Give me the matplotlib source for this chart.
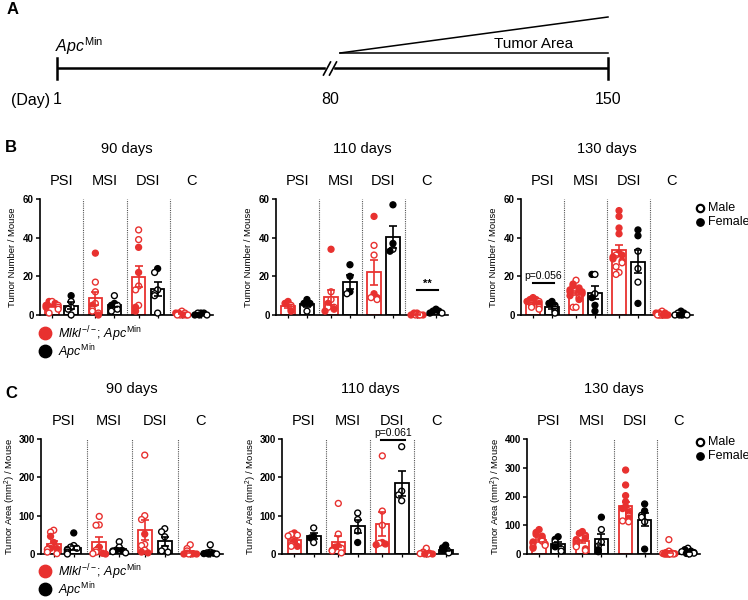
import numpy as np
import matplotlib
matplotlib.use('Agg')
import matplotlib.pyplot as plt

plt.rcParams['font.family'] = ['Liberation Sans', 'DejaVu Sans']
plt.rcParams['mathtext.fontset'] = 'custom'
plt.rcParams['mathtext.rm'] = 'Liberation Sans'
plt.rcParams['mathtext.it'] = 'Liberation Sans:italic'

RED = '#e8312f'
BLACK = '#000000'

groups = ['PSI', 'MSI', 'DSI', 'C']
timeline_days = [1, 80, 150]

# sex codes: 'f' = female (filled), 'm' = male (open); order PSI, MSI, DSI, C
# --- B: tumor number ---
num90_mlkl = [[7, 7, 6, 5, 5, 4, 4, 3, 1], [32, 17, 12, 6, 5, 3, 2, 1, 0],
              [44, 39, 35, 22, 15, 13, 5, 4, 2], [2, 1, 1, 1, 0, 0, 0, 0, 0]]
num90_mlkl_sex = ['fmffmfmmm', 'fmmmfmmmf', 'mmffmmmff', 'mmffmfmfm']
num90_apc = [[10, 7, 4, 3, 0], [10, 6, 5, 5, 3, 2],
             [24, 22, 13, 11, 10, 1], [1, 1, 1, 0, 0, 0]]
num90_apc_sex = ['fmmmm', 'mffmmm', 'fmmmmm', 'ffmfmf']

num110_mlkl = [[7, 6, 5, 4, 3, 2], [34, 12, 8, 6, 4, 4, 3, 2],
               [51, 36, 31, 11, 9, 9, 8], [1, 1, 0, 0, 0, 0, 0]]
num110_mlkl_sex = ['ffmmmf', 'fmmfmmff', 'fmmffmm', 'ffmmffm']
num110_apc = [[8, 6, 6, 2], [26, 20, 12, 11], [57, 37, 34, 33], [3, 2, 2, 1, 1]]
num110_apc_sex = ['fffm', 'fffm', 'ffmf', 'fffmf']

num130_mlkl = [[9, 8, 8, 7, 7, 6, 6, 5, 5, 4, 4, 3],
               [18, 16, 15, 14, 13, 13, 12, 12, 11, 10, 9, 8, 4, 4],
               [54, 51, 45, 42, 32, 31, 31, 30, 29, 28, 27, 25, 22, 21],
               [2, 1, 1, 1, 0, 0, 0, 0, 0, 0, 0, 0]]
num130_mlkl_sex = ['fffmfmfmfmmm', 'mfffffffffmfmm', 'ffffffmfffmmmm', 'mffffmmffmfm']
num130_apc = [[7, 6, 5, 4, 3, 2, 1], [21, 21, 11, 9, 5, 2],
              [44, 41, 33, 24, 17, 6], [2, 1, 1, 0, 0, 0, 0]]
num130_apc_sex = ['fffmmmm', 'fmmfff', 'ffmmmf', 'ffmfmmf']

# --- C: tumor area (mm2) ---
area90_mlkl = [[62, 57, 46, 30, 20, 15, 14, 12, 5, 1], [98, 76, 75, 18, 10, 5, 2, 1, 0],
               [258, 100, 90, 52, 25, 22, 10, 5, 3], [24, 14, 8, 2, 1, 0, 0, 0, 0]]
area90_mlkl_sex = ['mmffmffmmm', 'mmmfmmfmf', 'mmmfmmmff', 'mmmfmffmf']
area90_apc = [[55, 22, 18, 15, 12, 10, 5, 3, 0], [32, 18, 10, 9, 8, 6, 3],
              [66, 58, 45, 15, 8, 5], [24, 5, 3, 2, 1, 0, 0]]
area90_apc_sex = ['fmmmmmmmm', 'mmfffmm', 'mmmmmm', 'mmmffmf']

area110_mlkl = [[55, 51, 49, 47, 32, 25, 20, 20], [132, 52, 20, 18, 15, 10, 8, 3],
                [256, 112, 75, 30, 28, 26, 24], [15, 5, 3, 2, 1, 0, 0, 0]]
area110_mlkl_sex = ['fmmmfmfm', 'mmffmfmm', 'mmmfmff', 'mfmfmfmf']
area110_apc = [[68, 46, 42, 30], [107, 90, 60, 30], [280, 164, 154, 139], [23, 16, 10, 6, 3]]
area110_apc_sex = ['mffm', 'mmmf', 'mmmm', 'fffmm']

area130_mlkl = [[85, 75, 68, 62, 55, 50, 45, 42, 38, 35, 30, 25, 20],
                [78, 72, 65, 60, 55, 50, 46, 42, 38, 34, 30, 25, 18, 12],
                [292, 240, 203, 182, 165, 158, 150, 145, 140, 132, 125, 115, 112],
                [50, 10, 5, 3, 2, 1, 0, 0, 0, 0, 0, 0]]
area130_mlkl_sex = ['ffffffmffmmmf', 'fffmfffmfmfmfm', 'ffffffmffmfmm', 'mmffmffmfmfm']
area130_apc = [[60, 51, 43, 30, 25, 18, 10], [128, 85, 42, 28, 15, 8],
               [174, 150, 135, 128, 112, 17], [20, 15, 10, 8, 5, 3, 2, 0]]
area130_apc_sex = ['ffmmfmm', 'fmmmff', 'ffmmmf', 'mffmfmfm']

W, H = 748, 600
fig = plt.figure(figsize=(W / 100, H / 100), dpi=100)

# overlay in pixel coords for panel A and figure-level text
ov = fig.add_axes([0, 0, 1, 1])
ov.set_xlim(0, W)
ov.set_ylim(H, 0)
ov.axis('off')


def px_rect(l, t, w, h):
    return [l / W, 1 - (t + h) / H, w / W, h / H]


# ---- panel A: timeline ----
day_x = [57, 330, 608]
ov.text(7, 10, 'A', fontsize=12, fontweight='bold', va='center', ha='left')
ov.plot([day_x[0], day_x[2]], [68, 68], color='black', lw=1.8, solid_capstyle='butt')
for x in (day_x[0], day_x[2]):
    ov.plot([x, x], [58, 79], color='black', lw=1.8)
ov.add_patch(plt.Rectangle((326, 64), 7, 8, color='white', zorder=3))
for dx in (-3, 3):
    ov.plot([day_x[1] + dx - 3.5, day_x[1] + dx + 3.5], [75, 62], color='black', lw=1.2, zorder=4)
ov.plot([340, 608], [53, 17], color='black', lw=1.1)
ov.plot([340, 608], [53, 53], color='black', lw=1.1)
ov.text(534, 44, 'Tumor Area', fontsize=11, ha='center', va='center')
ov.text(55, 46, r'$\it{Apc}^{\rm Min}$', fontsize=11.5, ha='left', va='center')
ov.text(50, 100, '(Day)', fontsize=11.5, ha='right', va='center')
for d, x in zip(timeline_days, day_x):
    ov.text(x, 100, str(d), fontsize=11.5, ha='center', va='center')

ov.text(5, 148, 'B', fontsize=12, fontweight='bold', va='center', ha='left')
ov.text(5, 393, 'C', fontsize=12, fontweight='bold', va='center', ha='left')


def swarm(vals, px_per_unit, step=0.07, close=4.5):
    pattern = [0, -1, 1, -2, 2, -0.5, 0.5, -1.5, 1.5]
    offs = np.zeros(len(vals))
    placed = []
    for i in np.argsort(vals)[::-1]:
        y = vals[i] * px_per_unit
        k = sum(1 for yy in placed if abs(yy - y) < close)
        offs[i] = pattern[k % len(pattern)] * step
        placed.append(y)
    return offs


def draw_panel(rect, mlkl, mlkl_sex, apc, apc_sex, ymax, ystep, ylabel, title):
    l, t, w, h = rect
    ax = fig.add_axes(px_rect(l, t, w, h))
    ppu = h / ymax
    ticks = []
    for gi in range(4):
        for vals, sex, color, dx in ((mlkl[gi], mlkl_sex[gi], RED, -0.22),
                                     (apc[gi], apc_sex[gi], BLACK, 0.22)):
            v = np.array(vals, dtype=float)
            x = gi + dx
            ticks.append(x)
            m = v.mean()
            sem = v.std(ddof=1) / np.sqrt(len(v))
            ax.bar(x, m, width=0.31, facecolor='white', edgecolor=color, lw=1.3, zorder=1)
            xs = x + swarm(v, ppu)
            fc = [color if s == 'f' else 'white' for s in sex]
            ax.scatter(xs, v, s=18, facecolors=fc, edgecolors=color, linewidths=1.0,
                       zorder=3, clip_on=False)
            ax.errorbar(x, m, yerr=sem, fmt='none', ecolor=color, elinewidth=1.2,
                        capsize=3, capthick=1.2, zorder=4)
    for b in (0.5, 1.5, 2.5):
        ax.axvline(b, color='#555555', ls=(0, (1, 1)), lw=0.8, zorder=0)
    for gi, g in enumerate(groups):
        ax.text(gi, 1 + 18 / h, g, ha='center', va='center', fontsize=10.5,
                transform=ax.get_xaxis_transform())
    ax.text(0.5, 1 + 50 / h, title, ha='center', va='center', fontsize=10.5,
            transform=ax.transAxes)
    ax.set_xlim(-0.5, 3.5)
    ax.set_ylim(0, ymax)
    ax.set_yticks(np.arange(0, ymax + 1, ystep))
    ax.set_xticks(ticks)
    ax.set_xticklabels([])
    ax.spines['top'].set_visible(False)
    ax.spines['right'].set_visible(False)
    ax.spines['left'].set_linewidth(1.2)
    ax.spines['bottom'].set_linewidth(1.2)
    ax.tick_params(axis='y', length=3, width=1.1, labelsize=7, pad=1.5)
    ax.tick_params(axis='x', length=2.5, width=0.9)
    for lab in ax.get_yticklabels():
        lab.set_fontweight('bold')
    ax.set_ylabel(ylabel, fontsize=6.8)
    ax.yaxis.set_label_coords(-23 / w, 0.5)
    ax.patch.set_alpha(0)
    return ax


num_label = 'Tumor Number / Mouse'
area_label = r'Tumor Area (mm$^2$) / Mouse'

b1 = draw_panel((40, 199, 173, 116), num90_mlkl, num90_mlkl_sex, num90_apc, num90_apc_sex,
                60, 20, num_label, '90 days')
b2 = draw_panel((276, 199, 172, 116), num110_mlkl, num110_mlkl_sex, num110_apc, num110_apc_sex,
                60, 20, num_label, '110 days')
b3 = draw_panel((521, 199, 172, 116), num130_mlkl, num130_mlkl_sex, num130_apc, num130_apc_sex,
                60, 20, num_label, '130 days')
c1 = draw_panel((41, 439, 182, 115), area90_mlkl, area90_mlkl_sex, area90_apc, area90_apc_sex,
                300, 100, area_label, '90 days')
c2 = draw_panel((282, 439, 176, 115), area110_mlkl, area110_mlkl_sex, area110_apc, area110_apc_sex,
                300, 100, area_label, '110 days')
c3 = draw_panel((527, 439, 173, 115), area130_mlkl, area130_mlkl_sex, area130_apc, area130_apc_sex,
                400, 100, area_label, '130 days')

# significance marks
b2.plot([2.78, 3.27], [13, 13], color='black', lw=1.5, clip_on=False)
b2.text(3.02, 13.5, '**', ha='center', va='bottom', fontsize=8, fontweight='bold')
b3.plot([-0.23, 0.26], [16.5, 16.5], color='black', lw=1.5, clip_on=False)
b3.text(0.02, 17.5, 'p=0.056', ha='center', va='bottom', fontsize=7.5)
c2.plot([1.76, 2.29], [298, 298], color='black', lw=1.5, clip_on=False)
c2.text(2.02, 303, 'p=0.061', ha='center', va='bottom', fontsize=7.5)

# legends
geno_label = r'$\it{Mlkl}^{-/-}$; $\it{Apc}^{\rm Min}$'
apc_label = r'$\it{Apc}^{\rm Min}$'
for y0 in (333, 571):
    ov.scatter([45], [y0], s=80, color=RED)
    ov.text(58, y0 + 1, geno_label, fontsize=9, va='center')
    ov.scatter([45], [y0 + 18], s=80, color=BLACK)
    ov.text(58, y0 + 19, apc_label, fontsize=9, va='center')
for y0 in (208, 442):
    ov.scatter([700], [y0], s=28, facecolor='white', edgecolor='black', linewidths=1.6)
    ov.text(708, y0, 'Male', fontsize=9, va='center')
    ov.scatter([700], [y0 + 14], s=28, color='black')
    ov.text(708, y0 + 14, 'Female', fontsize=9, va='center')

fig.savefig('out.png', dpi=100)
